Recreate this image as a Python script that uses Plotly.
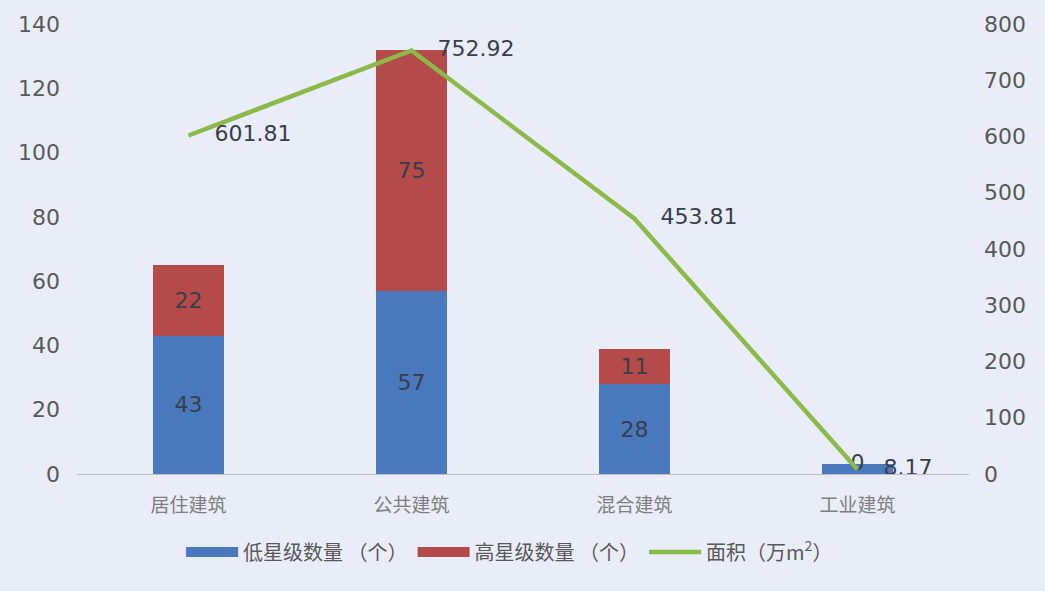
import plotly.graph_objects as go

# data
categories = ['居住建筑', '公共建筑', '混合建筑', '工业建筑']
low_star = [43, 57, 28, 3]
high_star = [22, 75, 11, 0]
area = [601.81, 752.92, 453.81, 8.17]

low_text = ['43', '57', '28', '3']
high_text = ['22', '75', '11', '0']

BG = '#E9EDF7'
BLUE = '#4A78BD'
RED = '#B54A4A'
GREEN = '#8DB84A'
LABEL_FONT = dict(family='DejaVu Sans', size=22, color='#383e4a')
TICK_FONT = dict(family='DejaVu Sans', size=22, color='#595959')
CAT_FONT = dict(family='Noto Sans CJK SC', size=19, color='#7f7f7f')

fig = go.Figure(
  layout=dict(
    width=1045,
    height=591,
    barmode='stack',
    bargap=0.68,
    paper_bgcolor=BG,
    plot_bgcolor=BG,
    margin=dict(l=77, r=76, t=22, b=117),
    showlegend=True,
    legend=dict(
      orientation='h',
      x=0.485, xanchor='center',
      y=-0.13, yanchor='top',
      font=dict(family='Noto Sans CJK SC', size=20, color='#595959'),
      bgcolor='rgba(0,0,0,0)',
      traceorder='normal',
      itemwidth=52,
    ),
    xaxis=dict(
      tickfont=CAT_FONT,
      showgrid=False,
      showline=True, linecolor='#bfbfbf', linewidth=1,
      ticks='', ticklabelstandoff=14,
    ),
    yaxis=dict(
      range=[0, 140], dtick=20,
      tickfont=TICK_FONT,
      showgrid=False, zeroline=False, showline=False,
      ticks='', ticklabelstandoff=16,
    ),
    yaxis2=dict(
      range=[0, 800], dtick=100,
      overlaying='y', side='right',
      tickfont=TICK_FONT,
      showgrid=False, zeroline=False, showline=False,
      ticks='', ticklabelstandoff=14,
    ),
  )
)

# the tiny industrial segment has no label inside the bar in the original
fig.add_trace(go.Bar(
  x=categories,
  y=low_star,
  name='低星级数量（个）',
  showlegend=False,
  marker=dict(color=BLUE, line=dict(width=0)),
  text=low_text,
  textposition=['inside', 'inside', 'inside', 'none'],
  insidetextanchor='middle',
  textfont=LABEL_FONT,
))

fig.add_trace(go.Bar(
  x=categories,
  y=high_star,
  name='高星级数量（个）',
  showlegend=False,
  marker=dict(color=RED, line=dict(width=0)),
  text=high_text,
  textposition=['inside' if v > 0 else 'none' for v in high_star],
  insidetextanchor='middle',
  textfont=LABEL_FONT,
))

# zero-height segments get their label centred on the top of the stack
zero_idx = [i for i, v in enumerate(high_star) if v == 0]
fig.add_trace(go.Scatter(
  x=[categories[i] for i in zero_idx],
  y=[low_star[i] + high_star[i] for i in zero_idx],
  text=[high_text[i] for i in zero_idx],
  mode='text',
  textposition='middle center',
  textfont=LABEL_FONT,
  showlegend=False,
  hoverinfo='skip',
  cliponaxis=False,
))

# area line on the right axis
fig.add_trace(go.Scatter(
  x=categories,
  y=area,
  yaxis='y2',
  name='面积（万m<sup>2</sup>）',
  showlegend=False,
  mode='lines+markers+text',
  line=dict(color=GREEN, width=4.5),
  marker=dict(size=40, color='rgba(0,0,0,0)'),
  text=[f'{v:.2f}' for v in area],
  textposition='middle right',
  textfont=LABEL_FONT,
  cliponaxis=False,
))

# legend entries drawn as wide blocks like the original
for name, color, width in [('低星级数量 （个）', BLUE, 14),
                           ('高星级数量 （个）', RED, 14),
                           ('面积（万m<sup>2</sup>）', GREEN, 4.5)]:
  fig.add_trace(go.Scatter(
    x=[None], y=[None], mode='lines', name=name,
    line=dict(color=color, width=width),
  ))

fig.write_html('out.html', config={'displayModeBar': False},
               post_script="document.body.style.margin='0px';")
